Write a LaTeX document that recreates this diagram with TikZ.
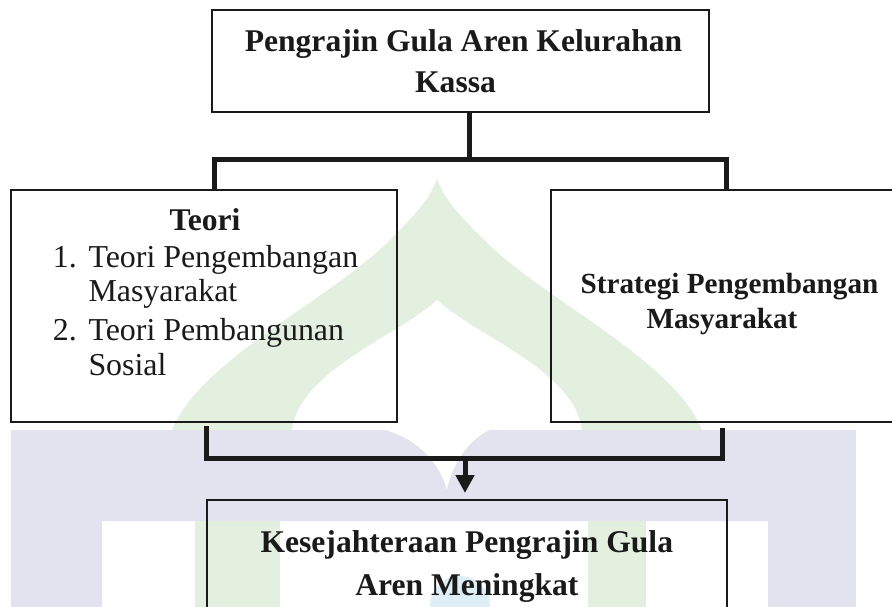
\documentclass[tikz,border=0pt]{standalone}
\usepackage{fontspec}
\setmainfont{Liberation Serif}
\usetikzlibrary{arrows.meta}
\definecolor{wmgreen}{HTML}{E3F0E0}
\definecolor{wmlav}{HTML}{E3E3EF}
\definecolor{wmblue}{HTML}{DDEEF6}
\definecolor{ink}{HTML}{1A1A1A}
\begin{document}
\begin{tikzpicture}[x=1pt,y=-1pt,
  box/.style={draw=ink, line width=1.8pt, inner sep=0pt, outer sep=0pt},
  conn/.style={draw=ink, line width=5pt, line join=miter},
  bt/.style={font=\fontsize{31.6}{38}\selectfont\bfseries, text=ink, anchor=base, inner sep=0pt},
  bts/.style={font=\fontsize{29.2}{35}\selectfont\bfseries, text=ink, anchor=base, inner sep=0pt},
  rt/.style={font=\fontsize{31.9}{38}\selectfont, text=ink, anchor=base west, inner sep=0pt}]
\clip (0,0) rectangle (892,607);
\fill[white] (0,0) rectangle (892,607);
% watermark
\fill[wmgreen] (172,430) .. controls (200,360) and (330,300) .. (390,240)
  .. controls (420,210) and (432,195) .. (437,178)
  .. controls (442,195) and (454,210) .. (484,240)
  .. controls (544,300) and (674,360) .. (702,430) -- cycle;
\fill[white] (292,430) .. controls (300,370) and (400,335) .. (437,300)
  .. controls (474,335) and (574,370) .. (582,430) -- cycle;
\fill[wmlav] (11,430) -- (385,430) .. controls (420,440) and (440,465) .. (447,490)
  .. controls (452,465) and (468,440) .. (490,430) -- (856,430) -- (856,607)
  -- (768,607) -- (768,521) -- (102,521) -- (102,607) -- (11,607) -- cycle;
\fill[wmgreen] (195,521) rectangle (280,607);
\fill[wmgreen] (588,521) rectangle (646,607);
\fill[wmblue] (460,606) circle (30);
% boxes
\node[box, minimum width=497pt, minimum height=102pt] (top) at (460.5,61) {};
\node[box, minimum width=386pt, minimum height=232pt] (lb) at (204,306) {};
\node[box, minimum width=359pt, minimum height=232pt] (rb) at (730.5,306) {};
\node[box, minimum width=520pt, minimum height=150pt] (bot) at (467,575) {};
% texts
\node[bt] (t1) at (463.5,51.7) {Pengrajin Gula Aren Kelurahan};
\node[bt] (t2) at (455.5,93) {Kassa};
\node[bt] (lt) at (205,230.7) {Teori};
\node[rt] (n1) at (52.7,267.3) {1.};
\node[rt] (i1a) at (88.3,267.3) {Teori Pengembangan};
\node[rt] (i1b) at (88.3,301.7) {Masyarakat};
\node[rt] (n2) at (52.7,340) {2.};
\node[rt] (i2a) at (88.3,340) {Teori Pembangunan};
\node[rt] (i2b) at (88.3,375) {Sosial};
\node[bts] (r1) at (729.5,293.3) {Strategi Pengembangan};
\node[bts] (r2) at (722,328) {Masyarakat};
\node[bt] (b1) at (466.8,552) {Kesejahteraan Pengrajin Gula};
\node[bt] (b2) at (466.9,595) {Aren Meningkat};
% connectors
\coordinate (j1) at (469,159.2);
\coordinate (jl) at (214.5,159.2);
\coordinate (jr) at (726.5,159.2);
\draw[conn] (top.south -| j1) -- (j1);
\draw[conn] (lb.north -| jl) -- (jl) -- (jr) -- (rb.north -| jr);
\coordinate (kl0) at (206.7,426);
\coordinate (kl) at (206.7,458.5);
\coordinate (kr) at (722.3,458.5);
\coordinate (kr0) at (722.3,428);
\coordinate (k) at (465,458.5);
\draw[conn] (kl0) -- (kl) -- (kr) -- (kr0);
\draw[conn, -{Triangle[width=18pt,length=18pt]}, shorten >=7pt] (k) -- (bot.north -| k);
\end{tikzpicture}
\end{document}
